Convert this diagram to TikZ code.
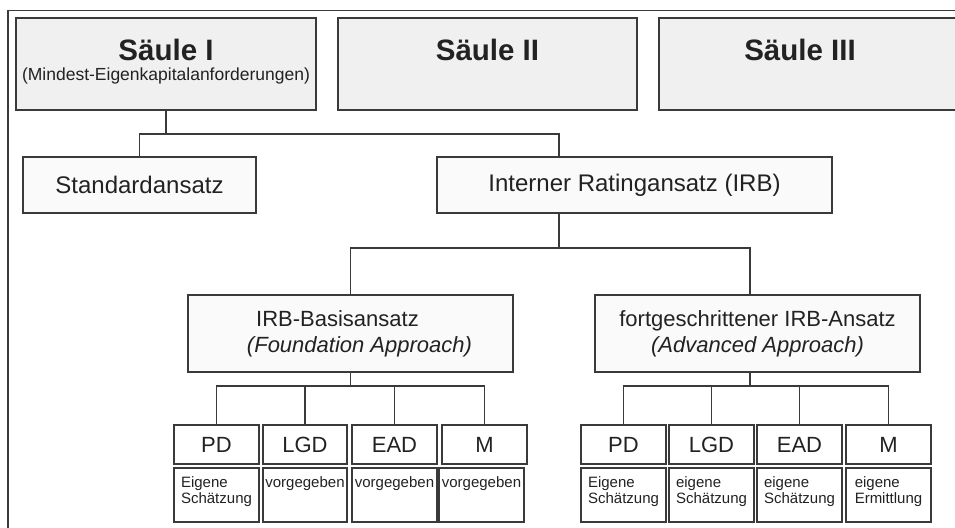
\documentclass[tikz,border=0pt]{standalone}
\usepackage{fontspec}
\setmainfont{Liberation Sans}
\definecolor{ink}{HTML}{222222}
\definecolor{edge}{HTML}{3A3A3A}
\definecolor{pillarfill}{HTML}{F0F0F0}
\definecolor{boxfill}{HTML}{FAFAFA}
\tikzset{
  base/.style={draw=edge, line width=1.4pt, inner sep=0pt, text=ink},
  pillar/.style={base, fill=pillarfill},
  plain/.style={base, fill=boxfill},
  cell/.style={base, fill=white},
  dims/.style 2 args={minimum width=#1pt, minimum height=#2pt},
  conn/.style={draw=edge, line width=1.3pt},
  title/.style={font=\fontsize{29.5}{34}\selectfont\bfseries, text=ink, inner sep=0pt, anchor=base},
  subtitle/.style={font=\fontsize{17.5}{20}\selectfont, text=ink, inner sep=0pt, anchor=base},
  big/.style={font=\fontsize{24}{28}\selectfont},
  mid/.style={font=\fontsize{22}{26}\selectfont, align=center},
  note/.style={font=\fontsize{15}{16}\selectfont, text=ink, inner sep=0pt, align=left, anchor=north},
}
\begin{document}
\begin{tikzpicture}[x=1pt, y=-1pt]
  \fill[white] (0,0) rectangle (955,527);
  \useasboundingbox (0,0) rectangle (955,527);

  % page frame (runs on past the right and bottom edges)
  \draw[draw=edge, line width=1.4pt] (8,540) -- (8,10.5) -- (990,10.5);

  % the three pillars
  \node[pillar, dims={300}{92}] (s1) at (166,64) {};
  \node[title] (s1t) at (166,60) {Säule I};
  \node[subtitle] (s1s) at (166,81) {(Mindest-Eigenkapitalanforderungen)};
  \node[pillar, dims={299}{92}] (s2) at (487.5,64) {};
  \node[title] (s2t) at (487.5,60) {Säule II};
  \node[pillar, dims={340}{92}] (s3) at (829,64) {};
  \node[title] (s3t) at (800,60) {Säule III};

  % approaches
  \node[plain, big, dims={233}{56}] (std) at (139.5,185) {Standardansatz};
  \node[plain, big, dims={395}{56}] (irb) at (634.5,185) {Interner Ratingansatz (IRB)};
  \node[plain, mid, dims={325}{77}] (fib) at (350.5,333.5)
    {IRB-Basisansatz\hspace*{26pt}\\\hspace*{18pt}\textit{(Foundation Approach)}};
  \node[plain, mid, dims={325}{77}] (aib) at (757.5,333.5)
    {fortgeschrittener IRB-Ansatz\\\textit{(Advanced Approach)}};

  % risk parameters
  \foreach \id/\x/\w/\lab in {bpd/216.5/85/PD, blgd/305/84/LGD, bead/394.5/85/EAD, bm/484.5/85/M,
                               apd/623.5/85/PD, algd/711.5/85/LGD, aead/799.5/85/EAD, am/888.5/85/M}
    \node[cell, dims={\w}{39}, font=\fontsize{22}{26}\selectfont] (\id) at (\x,444.5) {\lab};

  \foreach \id/\x/\w/\txt in {bpdn/216.5/85/{Eigene\\Schätzung}, blgdn/305/84/vorgegeben,
                               beadn/394.5/85/vorgegeben, bmn/481.5/85/vorgegeben,
                               apdn/623.5/85/{Eigene\\Schätzung}, algdn/711.5/85/{eigene\\Schätzung},
                               aeadn/799.5/85/{eigene\\Schätzung}, amn/888.5/85/{eigene\\Ermittlung}}
  {
    \node[cell, dims={\w}{54}] (\id) at (\x,495) {};
    \node[note] (\id t) at ([yshift=-9pt]\id.north) {\txt};
  }

  % connectors
  \coordinate (j1) at (167,134);
  \draw[conn] (s1.south) -- (s1.south |- j1);
  \draw[conn] (std.north) |- ([xshift=-75.5pt]irb.north |- j1) -- ([xshift=-75.5pt]irb.north);

  \coordinate (j2) at (559,248);
  \draw[conn] ([xshift=-75.5pt]irb.south) -- (j2);
  \draw[conn] (fib.north) |- (j2) -| ([xshift=-7.5pt]aib.north);

  \coordinate (j3) at (351,386);
  \draw[conn] (fib.south) -- (fib.south |- j3);
  \draw[conn] (bpd.north) |- (bm.north |- j3) -- (bm.north);
  \draw[conn] (blgd.north) -- (blgd.north |- j3);
  \draw[conn] (bead.north) -- (bead.north |- j3);

  \coordinate (j4) at (750,386);
  \draw[conn] ([xshift=-7.5pt]aib.south) -- (j4);
  \draw[conn] (apd.north) |- (am.north |- j4) -- (am.north);
  \draw[conn] (algd.north) -- (algd.north |- j4);
  \draw[conn] (aead.north) -- (aead.north |- j4);
\end{tikzpicture}
\end{document}
